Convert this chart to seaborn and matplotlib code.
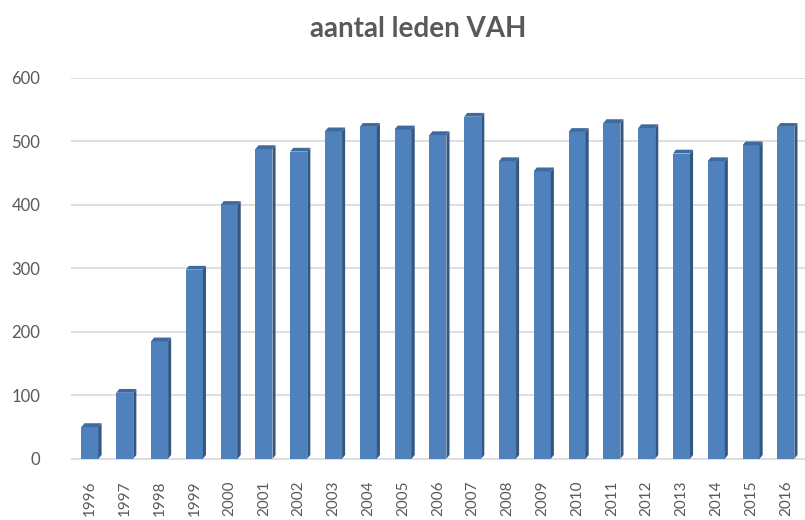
import matplotlib
matplotlib.use("Agg")
import matplotlib.pyplot as plt
import matplotlib.patches as mpatches
import seaborn as sns
import pandas as pd

years = ["1996", "1997", "1998", "1999", "2000", "2001", "2002", "2003", "2004", "2005", "2006",
         "2007", "2008", "2009", "2010", "2011", "2012", "2013", "2014", "2015", "2016"]
members = [50, 104, 185, 298, 400, 488, 484, 516, 523, 519, 510,
           539, 469, 453, 515, 529, 521, 481, 469, 494, 523]
yticks = [0, 100, 200, 300, 400, 500, 600]
title = "aantal leden VAH"

df = pd.DataFrame({"jaar": years, "leden": members})

sns.set_theme(style="white")
plt.rcParams["font.family"] = ["Lato", "DejaVu Sans"]

fig = plt.figure(figsize=(8.05, 5.20), dpi=100)
ax = fig.add_axes([0.088, 0.108, 0.912, 0.742])

front = "#4F81BD"
side = "#34577F"
top = "#3E6A9E"

sns.barplot(data=df, x="jaar", y="leden", color=front, width=0.49,
            saturation=1, ax=ax, zorder=3, edgecolor="none")

# pseudo-3D side and top faces derived from each bar's geometry
for p in list(ax.patches):
    x0 = p.get_x()
    w = p.get_width()
    h = p.get_height()
    d = w * 0.18
    dy = 6
    side_poly = mpatches.Polygon(
        [(x0 + w, 0), (x0 + w + d, dy), (x0 + w + d, h + dy), (x0 + w, h)],
        closed=True, facecolor=side, edgecolor="none", zorder=3)
    top_poly = mpatches.Polygon(
        [(x0, h), (x0 + d, h + dy), (x0 + w + d, h + dy), (x0 + w, h)],
        closed=True, facecolor=top, edgecolor="none", zorder=3)
    ax.add_patch(side_poly)
    ax.add_patch(top_poly)

ax.set_ylim(-8, 600)
ax.set_xlim(-0.55, len(years) - 0.45)
ax.set_yticks(yticks)
ax.set_yticklabels([str(v) for v in yticks])
ax.yaxis.grid(True, color="#D9D9D9", linewidth=1.2, zorder=0)
ax.xaxis.grid(False)
for s in ax.spines.values():
    s.set_visible(False)

ax.tick_params(axis="y", length=0, pad=22, labelsize=12, labelcolor="#595959")
ax.tick_params(axis="x", length=0, pad=12, labelsize=11, labelcolor="#595959",
               labelrotation=90)
ax.set_xlabel("")
ax.set_ylabel("")

fig.text(0.519, 0.945, title, ha="center", va="center", fontsize=20,
         fontweight="bold", color="#595959")

fig.savefig("out.png", dpi=100)
